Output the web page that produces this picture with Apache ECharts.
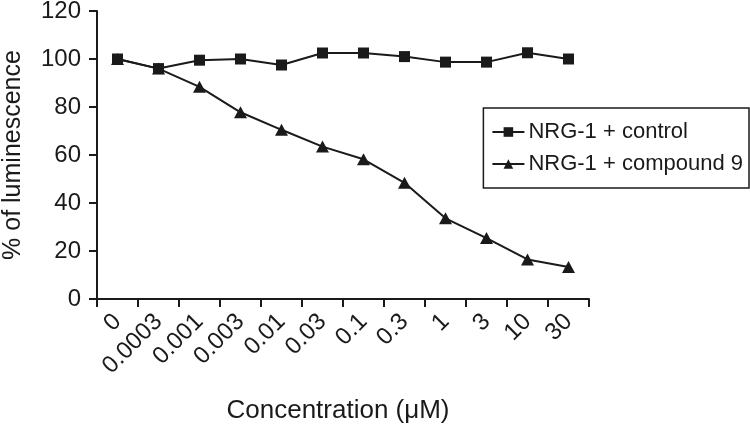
<!DOCTYPE html>
<html>
<head>
<meta charset="utf-8">
<script src="https://cdn.jsdelivr.net/npm/echarts@6/dist/echarts.min.js"></script>
<style>html,body{margin:0;padding:0;background:#fff}#c{width:750px;height:426px}</style>
</head>
<body>
<div id="c"></div>
<script>
const categories = ['0','0.0003','0.001','0.003','0.01','0.03','0.1','0.3','1','3','10','30'];
const controlValues = [100, 96, 99.5, 100, 97.5, 102.5, 102.5, 101, 98.7, 98.7, 102.6, 100];
const compoundValues = [100, 96, 88.4, 77.8, 70.5, 63.5, 58.2, 48.4, 33.6, 25.4, 16.5, 13.3];
const yTicks = [0, 20, 40, 60, 80, 100, 120];
const seriesNames = ['NRG-1 + control', 'NRG-1 + compound 9'];

const FONT = 'Liberation Sans, Arial, sans-serif';
const INK = '#1a1a1a';
const chart = echarts.init(document.getElementById('c'), null, {renderer: 'canvas'});
chart.setOption({
  animation: false,
  backgroundColor: '#fff',
  grid: {left: 97, right: 161, top: 11, bottom: 127, containLabel: false, outerBoundsMode: 'none'},
  legend: {
    right: 1, top: 108,
    orient: 'vertical',
    borderColor: INK, borderWidth: 1.5,
    padding: [13, 6, 13, 8],
    itemGap: 10,
    itemWidth: 32, itemHeight: 12,
    textStyle: {fontFamily: FONT, fontSize: 22, lineHeight: 22, color: INK, padding: [0, 0, 0, -1]},
    data: seriesNames
  },
  xAxis: {
    type: 'category',
    data: categories,
    boundaryGap: true,
    name: 'Concentration (\u03bcM)',
    nameLocation: 'middle',
    nameGap: 99,
    nameTextStyle: {fontFamily: FONT, fontSize: 26, color: INK, padding: [0, 10, 0, 0]},
    axisLine: {lineStyle: {color: INK, width: 2}},
    axisTick: {show: true, length: 8, lineStyle: {color: INK, width: 2}},
    axisLabel: {rotate: 45, fontFamily: FONT, fontSize: 24, color: INK, margin: 19, interval: 0}
  },
  yAxis: {
    type: 'value',
    min: yTicks[0], max: yTicks[yTicks.length - 1], interval: 20,
    name: '% of luminescence',
    nameLocation: 'middle',
    nameGap: 71,
    nameTextStyle: {fontFamily: FONT, fontSize: 25, color: INK},
    axisLine: {show: true, lineStyle: {color: INK, width: 2}},
    axisTick: {show: true, length: 8, lineStyle: {color: INK, width: 2}},
    splitLine: {show: false},
    axisLabel: {fontFamily: FONT, fontSize: 24, color: INK, margin: 16}
  },
  series: [
    {
      name: seriesNames[1], type: 'line', data: compoundValues,
      symbol: 'triangle', symbolSize: [13, 12],
      lineStyle: {color: INK, width: 2},
      itemStyle: {color: INK},
      z: 2
    },
    {
      name: seriesNames[0], type: 'line', data: controlValues,
      symbol: 'rect', symbolSize: 11,
      lineStyle: {color: INK, width: 2},
      itemStyle: {color: INK},
      z: 3
    }
  ]
});
</script>
</body>
</html>
